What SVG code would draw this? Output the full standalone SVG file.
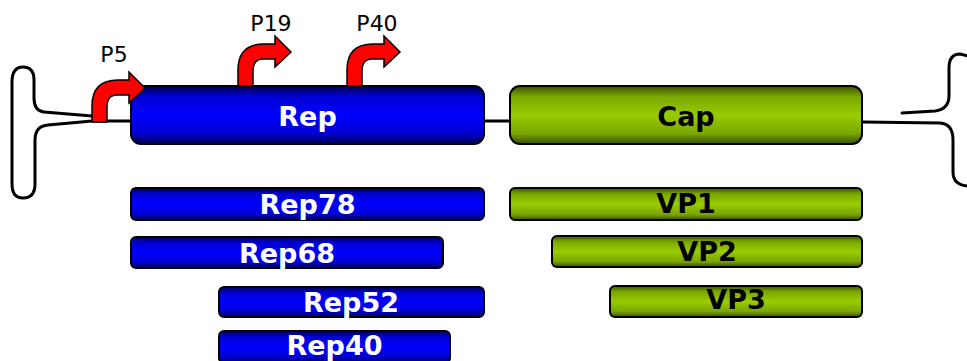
<svg xmlns="http://www.w3.org/2000/svg" xmlns:xlink="http://www.w3.org/1999/xlink" width="967" height="361" viewBox="0 0 967 361">
<defs>
<linearGradient id="gBlue" x1="0" y1="0" x2="0" y2="1">
<stop offset="0" stop-color="#000050"/>
<stop offset="0.18" stop-color="#0000d0"/>
<stop offset="0.5" stop-color="#0000ff"/>
<stop offset="0.82" stop-color="#0000d0"/>
<stop offset="1" stop-color="#000050"/>
</linearGradient>
<linearGradient id="gGreen" x1="0" y1="0" x2="0" y2="1">
<stop offset="0" stop-color="#3a5000"/>
<stop offset="0.18" stop-color="#7aa600"/>
<stop offset="0.5" stop-color="#99cc00"/>
<stop offset="0.82" stop-color="#7aa600"/>
<stop offset="1" stop-color="#3a5000"/>
</linearGradient>
<path id="bent" d="M0,0 V-16 C0,-34 10,-42 26,-42 H37 V-50 L53,-34 L37,-19 V-27 H25 C18,-27 15,-23 15,-15 V0 Z"/>
</defs>
<style>
.rep{fill:url(#gBlue);stroke:#000;stroke-width:2}
.cap{fill:url(#gGreen);stroke:#000;stroke-width:2}
.lw{font-family:"DejaVu Sans",Verdana,sans-serif;font-weight:bold;font-size:27px;fill:#fff;text-anchor:middle}
.lb{font-family:"DejaVu Sans",Verdana,sans-serif;font-weight:bold;font-size:27px;fill:#000;text-anchor:middle}
.pl{font-family:"DejaVu Sans",Verdana,sans-serif;font-size:22px;fill:#000;text-anchor:middle}
.line{fill:none;stroke:#000;stroke-width:3;stroke-linecap:round;stroke-linejoin:round}
.arr{fill:#ff0000;stroke:#000;stroke-width:1.5}
</style>
<g id="connectors">
<path class="line" d="M92,116 L44,112 Q34,111 34,98 L34,80 Q34,67 23,67 Q12,67 12,82 L12,184 Q12,198 23,198 Q35,198 35,184 L35,140 Q35,126 48,125 L92,121 L131,121"/>
<path class="line" d="M484,121 L510,121"/>
<path class="line" d="M862,122 L940,123 Q953,124 953,140 L953,172 Q953,185 968,186"/>
<path class="line" d="M902,113 L935,111 Q949,109 949,96 L949,68 Q949,54 960,54 L968,56"/>
</g>
<g id="rep">
<rect class="rep" x="131" y="86" width="353" height="58" rx="10"/>
<text class="lw" x="307.5" y="126">Rep</text>
</g>
<g id="cap">
<rect class="cap" x="510" y="86" width="352" height="58" rx="10"/>
<text class="lb" x="686" y="126">Cap</text>
</g>
<g id="p5">
<use class="arr" xlink:href="#bent" href="#bent" transform="translate(92,122)"/>
<text class="pl" x="114" y="62">P5</text>
</g>
<g id="p19">
<use class="arr" xlink:href="#bent" href="#bent" transform="translate(238,86)"/>
<text class="pl" x="271" y="31">P19</text>
</g>
<g id="p40">
<use class="arr" xlink:href="#bent" href="#bent" transform="translate(347,86)"/>
<text class="pl" x="377" y="31">P40</text>
</g>
<g id="rep78">
<rect class="rep" x="131" y="188" width="353" height="32" rx="5"/>
<text class="lw" x="307.5" y="214">Rep78</text>
</g>
<g id="rep68">
<rect class="rep" x="131" y="237" width="312" height="31" rx="5"/>
<text class="lw" x="287" y="263">Rep68</text>
</g>
<g id="rep52">
<rect class="rep" x="219" y="287" width="265" height="30" rx="5"/>
<text class="lw" x="351" y="312">Rep52</text>
</g>
<g id="rep40">
<rect class="rep" x="219" y="331" width="231" height="32" rx="5"/>
<text class="lw" x="334.5" y="355">Rep40</text>
</g>
<g id="vp1">
<rect class="cap" x="510" y="188" width="352" height="32" rx="5"/>
<text class="lb" x="686" y="213">VP1</text>
</g>
<g id="vp2">
<rect class="cap" x="552" y="236" width="310" height="31" rx="5"/>
<text class="lb" x="707" y="261">VP2</text>
</g>
<g id="vp3">
<rect class="cap" x="610" y="286" width="252" height="31" rx="5"/>
<text class="lb" x="736" y="309">VP3</text>
</g>
</svg>
